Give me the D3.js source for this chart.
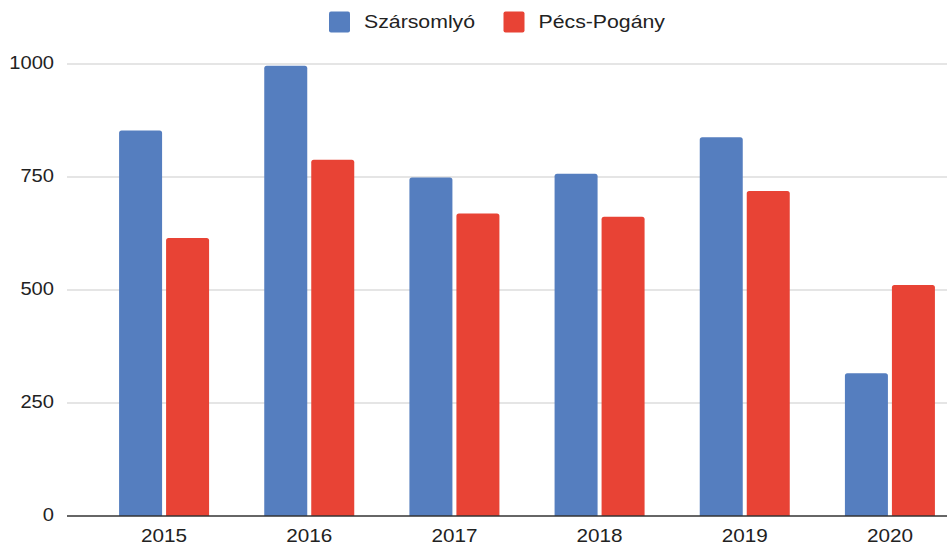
<!DOCTYPE html>
<html>
<head>
<meta charset="utf-8">
<script src="https://cdn.jsdelivr.net/npm/d3@7"></script>
<style>
  body { margin: 0; background: #fff; }
  svg { display: block; font-family: "Liberation Sans", Arial, sans-serif; }
</style>
</head>
<body>
<div id="chart"></div>
<script>
const years = ["2015", "2016", "2017", "2018", "2019", "2020"];
const seriesNames = ["Szársomlyó", "Pécs-Pogány"];
const szarsomlyo = [853, 996, 749, 757, 838, 316];
const pecsPogany = [615, 788, 669, 662, 719, 511];
const yTicks = [0, 250, 500, 750, 1000];
const colors = ["#557ebf", "#e84335"];

const width = 947;
const height = 545;
const gridLeft = 67;
const plotTop = 64;
const plotBottom = 516;
const stretch = 1.15; // the reference text is a bit wide

const data = years.map((y, i) => ({ year: y, values: [szarsomlyo[i], pecsPogany[i]] }));

const svg = d3.select("#chart").append("svg").attr("width", width).attr("height", height);

const y = d3.scaleLinear().domain([0, 1000]).range([plotBottom, plotTop]);
const x0 = d3.scaleBand().domain(years).range([91.5, 962.5]).paddingInner(0.38).paddingOuter(0.19);
const x1 = d3.scaleBand().domain([0, 1]).range([0, x0.bandwidth()]).paddingInner(0.085);

// gridlines
svg.append("g").selectAll("line").data(yTicks.filter(t => t > 0)).join("line")
    .attr("x1", gridLeft).attr("x2", width)
    .attr("y1", d => y(d)).attr("y2", d => y(d))
    .attr("stroke", "#cccccc").attr("stroke-width", 1.2);

// y labels
svg.append("g").selectAll("text").data(yTicks).join("text")
    .attr("transform", d => `translate(54,${y(d) + 4.5}) scale(${stretch},1)`)
    .attr("text-anchor", "end").style("font-size", "17.5px").style("fill", "#222")
    .text(d => d);

// bars
const groups = svg.append("g").selectAll("g").data(data).join("g")
    .attr("transform", d => `translate(${x0(d.year)},0)`);

groups.selectAll("path").data(d => d.values.map((v, k) => ({ v, k }))).join("path")
    .attr("fill", d => colors[d.k])
    .attr("d", d => {
        const bx = x1(d.k), bw = x1.bandwidth(), top = y(d.v), r = 2.5;
        return `M${bx},${plotBottom}V${top + r}Q${bx},${top} ${bx + r},${top}H${bx + bw - r}Q${bx + bw},${top} ${bx + bw},${top + r}V${plotBottom}Z`;
    });

// baseline
svg.append("line").attr("x1", gridLeft).attr("x2", width)
    .attr("y1", y(0)).attr("y2", y(0)).attr("stroke", "#333").attr("stroke-width", 1.5);

// x labels
svg.append("g").selectAll("text").data(years).join("text")
    .attr("transform", d => `translate(${x0(d) + x0.bandwidth() / 2},542) scale(${stretch},1)`)
    .attr("text-anchor", "middle").style("font-size", "18px").style("fill", "#222")
    .text(d => d);

// legend
const legendX = [329, 503.5];
const legend = svg.append("g").selectAll("g").data(seriesNames).join("g")
    .attr("transform", (d, i) => `translate(${legendX[i]},11.5)`);
legend.append("rect").attr("width", 21).attr("height", 21).attr("rx", 2)
    .attr("fill", (d, i) => colors[i]);
legend.append("text").attr("transform", `translate(35,16.5) scale(${stretch},1)`)
    .style("font-size", "18.5px").style("fill", "#222")
    .text(d => d);
</script>
</body>
</html>
